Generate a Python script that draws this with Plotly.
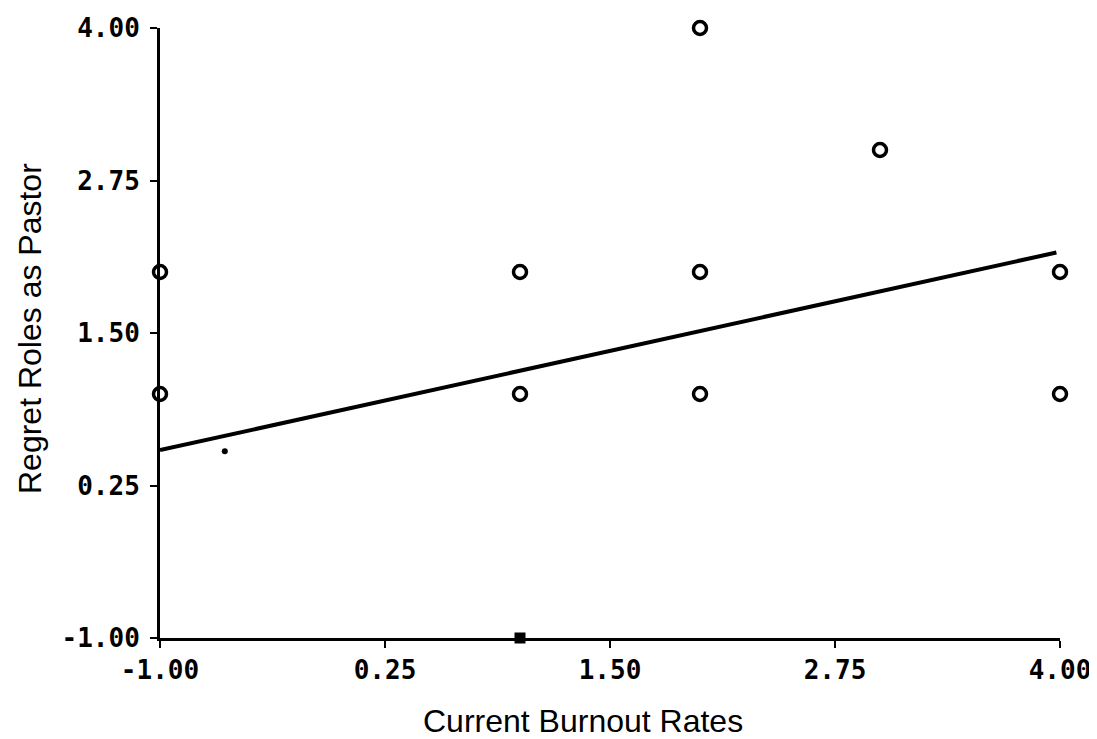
import plotly.graph_objects as go

# Data
burnout = [-1, -1, 1, 1, 2, 2, 2, 3, 4, 4]
regret = [2, 1, 2, 1, 4, 2, 1, 3, 2, 1]
axis_pt_x = [1]
axis_pt_y = [-1]
stray_x = [-0.64]
stray_y = [0.53]
fit_x = [-1, 3.98]
fit_y = [0.54, 2.16]
tick_vals = [-1.0, 0.25, 1.5, 2.75, 4.0]
tick_text = ["-1.00", "0.25", "1.50", "2.75", "4.00"]
x_title = "Current Burnout Rates"
y_title = "Regret Roles as Pastor"

tick_font = dict(family="DejaVu Sans Mono", size=26, color="black", weight="bold")
title_font = dict(family="Liberation Sans, Arial", size=32, color="black")

fig = go.Figure()
fig.add_trace(go.Scatter(x=fit_x, y=fit_y, mode="lines",
                         line=dict(color="black", width=4), cliponaxis=False,
                         showlegend=False))
fig.add_trace(go.Scatter(x=burnout, y=regret, mode="markers",
                         marker=dict(symbol="circle-open", size=13, color="black",
                                     line=dict(width=3.5, color="black")),
                         cliponaxis=False, showlegend=False))
fig.add_trace(go.Scatter(x=axis_pt_x, y=axis_pt_y, mode="markers",
                         marker=dict(symbol="square", size=11, color="black"),
                         cliponaxis=False, showlegend=False))
fig.add_trace(go.Scatter(x=stray_x, y=stray_y, mode="markers",
                         marker=dict(symbol="circle", size=6, color="black"),
                         cliponaxis=False, showlegend=False))

fig.update_layout(
    width=1089, height=731,
    margin=dict(l=152, r=37, t=20, b=101),
    plot_bgcolor="white", paper_bgcolor="white",
    xaxis=dict(range=[-1, 4], tickvals=tick_vals, ticktext=tick_text,
               showgrid=False, zeroline=False, showline=True, linecolor="black",
               linewidth=3, ticks="outside", ticklen=7, tickwidth=2, tickcolor="black",
               tickfont=tick_font, automargin=False, ticklabeloverflow="allow"),
    yaxis=dict(range=[-1, 4], tickvals=tick_vals, ticktext=tick_text,
               showgrid=False, zeroline=False, showline=True, linecolor="black",
               linewidth=3, ticks="outside", ticklen=7, tickwidth=2, tickcolor="black",
               tickfont=tick_font, automargin=False, ticklabelstandoff=5),
    annotations=[
        dict(text=x_title, xref="paper", yref="paper", x=0.47, y=-0.103,
             xanchor="center", yanchor="top", showarrow=False, font=title_font),
        dict(text=y_title, xref="paper", yref="paper", x=-0.1444, y=0.5066,
             xanchor="center", yanchor="middle", textangle=-90, showarrow=False,
             font=title_font),
    ],
)

fig.write_html("out.html")
